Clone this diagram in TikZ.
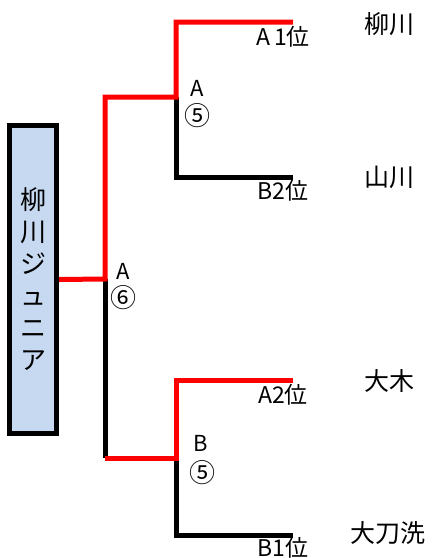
\documentclass[tikz,border=0pt]{standalone}
\usepackage{fontspec}
\newfontfamily\jp{Noto Sans CJK JP}
\definecolor{boxblue}{RGB}{198,217,241}
\definecolor{winred}{RGB}{255,0,0}
\begin{document}
\begin{tikzpicture}[
    x=1pt, y=-1pt,
    line width=5pt,
    lose/.style={draw=black},
    win/.style={draw=winred},
    team/.style={font=\jp\fontsize{25}{25}\selectfont, inner sep=0pt},
    rank/.style={font=\jp\fontsize{23}{23}\selectfont, inner sep=0pt},
    letter/.style={font=\jp\fontsize{22}{22}\selectfont, inner sep=0pt},
    circnum/.style={font=\jp\fontsize{26}{26}\selectfont, inner sep=0pt},
    champ/.style={draw=black, fill=boxblue, minimum width=47pt, minimum height=308pt,
                  inner sep=0pt, align=center, font=\jp\fontsize{26}{32}\selectfont}
]
  \useasboundingbox (0,0) rectangle (434,558);

  % nodes
  \node[champ] (box) at (33,279.5) {柳\\川\\ジ\\ュ\\ニ\\ア};

  \coordinate (f)   at (105,279);
  \coordinate (fa)  at (105,97);
  \coordinate (fb)  at (105,458);
  \coordinate (sa)  at (176,97);
  \coordinate (sb)  at (176,458);
  \coordinate (a1)  at (176,22);
  \coordinate (b2)  at (176,177);
  \coordinate (a2)  at (176,380);
  \coordinate (b1)  at (176,535);
  \coordinate (a1e) at (293,22);
  \coordinate (b2e) at (293,177);
  \coordinate (a2e) at (293,380);
  \coordinate (b1e) at (293,535);

  \node[rank] (ra1) at (283,37)  {A\,1位};
  \node[rank] (rb2) at (283,191) {B2位};
  \node[rank] (ra2) at (283,395) {A2位};
  \node[rank] (rb1) at (283,548) {B1位};

  \node[team] (t1) at (389,24)  {柳川};
  \node[team] (t2) at (389,177) {山川};
  \node[team] (t3) at (389,381) {大木};
  \node[team] (t4) at (388,533) {大刀洗};

  \node[letter]  (maA) at (197,88)  {A};
  \node[circnum] (ma5) at (197,116) {⑤};
  \node[letter]  (mfA) at (123,271) {A};
  \node[circnum] (mf6) at (123,298) {⑥};
  \node[letter]  (mbB) at (201,443) {B};
  \node[circnum] (mb5) at (202,473) {⑤};

  % edges
  \draw[lose] (f) -- (fb);
  \draw[lose] (sa) -- (b2) -- (b2e);
  \draw[lose] (sb) -- (b1) -- (b1e);
  \draw[win] (box.east) -- (f) -- (fa) -- (sa) -- (a1) -- (a1e);
  \draw[win] (fb) -- (sb) -- (a2) -- (a2e);
\end{tikzpicture}
\end{document}
